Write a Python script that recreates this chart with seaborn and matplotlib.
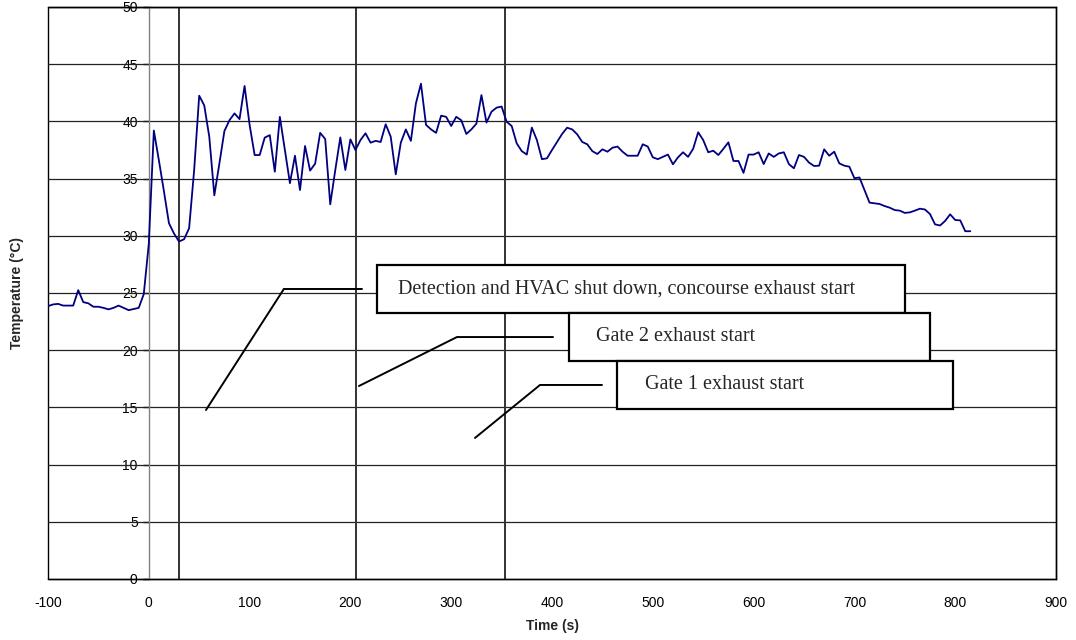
import numpy as np
import pandas as pd
import matplotlib
matplotlib.use("Agg")
import matplotlib.pyplot as plt
import seaborn as sns
from matplotlib.patches import Rectangle

# Temperature record, sampled every 5 s from -100 s to 815 s
time_start, time_step = -100, 5
temperature = [
    23.85, 24.0, 24.05, 23.9, 23.9, 23.9, 25.25, 24.2, 24.1, 23.8,
    23.8, 23.7, 23.57, 23.7, 23.9, 23.7, 23.5, 23.6, 23.7, 24.9,
    29.3, 39.2, 36.6, 33.9, 31.1, 30.2, 29.5, 29.7, 30.66, 35.75,
    42.25, 41.4, 38.66, 33.54, 36.3, 39.16, 40.1, 40.7, 40.2, 43.1,
    39.7, 37.06, 37.06, 38.58, 38.8, 35.6, 40.4, 37.5, 34.6, 37.0,
    34.0, 37.85, 35.7, 36.3, 39.0, 38.46, 32.75, 35.75, 38.6, 35.75,
    38.43, 37.5, 38.37, 38.96, 38.14, 38.3, 38.2, 39.75, 38.66, 35.37,
    38.14, 39.3, 38.3, 41.58, 43.3, 39.7, 39.3, 39.0, 40.5, 40.4,
    39.6, 40.4, 40.1, 38.9, 39.3, 39.8, 42.3, 39.9, 40.85, 41.2,
    41.3, 39.97, 39.6, 38.08, 37.4, 37.1, 39.46, 38.37, 36.7, 36.77,
    37.5, 38.2, 38.9, 39.45, 39.3, 38.87, 38.2, 38.0, 37.4, 37.15,
    37.56, 37.35, 37.7, 37.8, 37.35, 37.0, 37.0, 37.0, 38.0, 37.8,
    36.86, 36.7, 36.9, 37.1, 36.25, 36.86, 37.3, 36.9, 37.6, 39.05,
    38.37, 37.3, 37.44, 37.06, 37.6, 38.17, 36.54, 36.54, 35.5, 37.1,
    37.1, 37.3, 36.27, 37.2, 36.9, 37.2, 37.3, 36.27, 35.9, 37.06,
    36.9, 36.4, 36.1, 36.13, 37.56, 37.0, 37.35, 36.33, 36.13, 36.04,
    35.03, 35.1, 34.0, 32.9, 32.84, 32.78, 32.6, 32.46, 32.25, 32.2,
    32.0, 32.05, 32.2, 32.37, 32.3, 31.9, 31.0, 30.9, 31.3, 31.88,
    31.38, 31.35, 30.4, 30.4,
]
time_s = time_start + time_step * np.arange(len(temperature))

# Event times (vertical markers)
event_times = [30, 205.5, 353.5]

# Callout boxes: label, box x-range, box y-range, leader line (x list, y list)
event_labels = [
    "Detection and HVAC shut down, concourse exhaust start",
    "Gate 2 exhaust start",
    "Gate 1 exhaust start",
]
box_x = [(226.4, 750.2), (416.9, 775.0), (464.5, 797.6)]
box_y = [(23.25, 27.45), (19.06, 23.25), (14.86, 19.06)]
text_x = [247.5, 443.7, 492.3]
leader_x = [[56.7, 134.0, 211.5], [208.5, 305.7, 401.0], [323.6, 388.1, 449.6]]
leader_y = [[14.77, 25.35, 25.35], [16.87, 21.15, 21.15], [12.33, 16.96, 16.96]]

x_ticks = list(range(-100, 901, 100))
y_ticks = list(range(0, 51, 5))

df = pd.DataFrame({"Time (s)": time_s, "Temperature": temperature})

sns.set_theme(style="white")
sans = ["Liberation Sans Narrow", "Liberation Sans", "DejaVu Sans"]
plt.rcParams["font.family"] = sans
plt.rcParams["axes.unicode_minus"] = False

fig = plt.figure(figsize=(10.76, 6.4), dpi=100)
ax = fig.add_axes([48 / 1076, 61 / 640, 1008 / 1076, 572 / 640])

# grid
for yv in y_ticks[1:]:
    ax.axhline(yv, color="#222222", lw=0.9, zorder=1)

for xv in event_times:
    ax.axvline(xv, color="#333333", lw=1.4, zorder=2)

sns.lineplot(data=df, x="Time (s)", y="Temperature", ax=ax,
             color="#000080", lw=1.3, zorder=3)

ax.set_xlim(-100, 900)
ax.set_ylim(0, 50)
ax.set_xticks(x_ticks)
ax.set_yticks(y_ticks)

# frame of plot area, value axis crosses at x = 0
ax.patch.set_edgecolor("black")
ax.patch.set_linewidth(1.0)
for s in ["top", "right"]:
    ax.spines[s].set_visible(True)
    ax.spines[s].set_color("black")
    ax.spines[s].set_linewidth(1.0)
ax.spines["bottom"].set_color("black")
ax.spines["bottom"].set_linewidth(1.0)
ax.spines["left"].set_position(("data", 0))
ax.spines["left"].set_color("#808080")
ax.spines["left"].set_linewidth(1.0)

ax.tick_params(axis="both", direction="out", length=4, width=1,
               color="black", labelsize=10, labelcolor="black")
ax.tick_params(axis="x", pad=8)
ax.tick_params(axis="y", pad=4, left=True)

ax.set_xlabel("Time (s)", fontsize=10, fontweight="bold", labelpad=7)
ax.set_ylabel("")
fig.text(17 / 1076, 1 - 293 / 640, "Temperature (°C)", rotation=90,
         fontsize=10, fontweight="bold", ha="center", va="center")

# callouts
for i, label in enumerate(event_labels):
    ax.plot(leader_x[i], leader_y[i], color="black", lw=1.4, zorder=4,
            solid_joinstyle="miter")
    x0, x1 = box_x[i]
    y0, y1 = box_y[i]
    ax.add_patch(Rectangle((x0, y0), x1 - x0, y1 - y0, facecolor="white",
                           edgecolor="black", lw=1.6, zorder=5 + i))
    ax.text(text_x[i], (y0 + y1) / 2, label, fontsize=14.5,
            family=["Liberation Serif", "DejaVu Serif"],
            ha="left", va="center", zorder=6 + i)

fig.savefig("out.png", dpi=100)
